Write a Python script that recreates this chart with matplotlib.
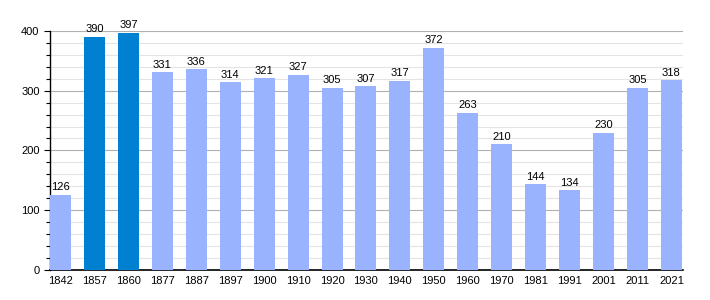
import matplotlib
matplotlib.use('Agg')
import matplotlib.pyplot as plt
from matplotlib.ticker import MultipleLocator

plt.rcParams['font.family'] = ['Liberation Sans', 'DejaVu Sans']

years = ['1842', '1857', '1860', '1877', '1887', '1897', '1900', '1910', '1920', '1930',
         '1940', '1950', '1960', '1970', '1981', '1991', '2001', '2011', '2021']
population = [126, 390, 397, 331, 336, 314, 321, 327, 305, 307,
              317, 372, 263, 210, 144, 134, 230, 305, 318]
highlighted = ['1857', '1860']

light = '#99b3ff'
dark = '#0080d0'
colors = [dark if y in highlighted else light for y in years]

fig = plt.figure(figsize=(7.1, 3.0), dpi=100)
ax = fig.add_axes([0.0704, 0.1, 0.892, 0.797])

x = list(range(len(years)))
bars = ax.bar(x, population, width=0.62, color=colors, zorder=3)
for xi, v in zip(x, population):
    ax.text(xi, v + 4, str(v), ha='center', va='bottom', fontsize=8, zorder=4)

ax.set_xlim(-0.31, len(years) - 1 + 0.35)
ax.set_ylim(0, 400)
ax.set_xticks(x)
ax.set_xticklabels(years, fontsize=8)
ax.yaxis.set_major_locator(MultipleLocator(100))
ax.yaxis.set_minor_locator(MultipleLocator(20))
ax.tick_params(axis='y', labelsize=8, length=4, width=0.8, which='major')
ax.tick_params(axis='y', length=3, width=0.8, which='minor')
ax.tick_params(axis='x', length=0, pad=4)

ax.grid(axis='y', which='major', color='#b0b0b0', linewidth=0.8, zorder=1)
ax.grid(axis='y', which='minor', color='#e4e4e4', linewidth=0.8, zorder=0)
for s in ['top', 'right']:
    ax.spines[s].set_visible(False)
ax.spines['left'].set_linewidth(1.0)
ax.spines['bottom'].set_linewidth(1.2)

fig.savefig('out.png', dpi=100)
